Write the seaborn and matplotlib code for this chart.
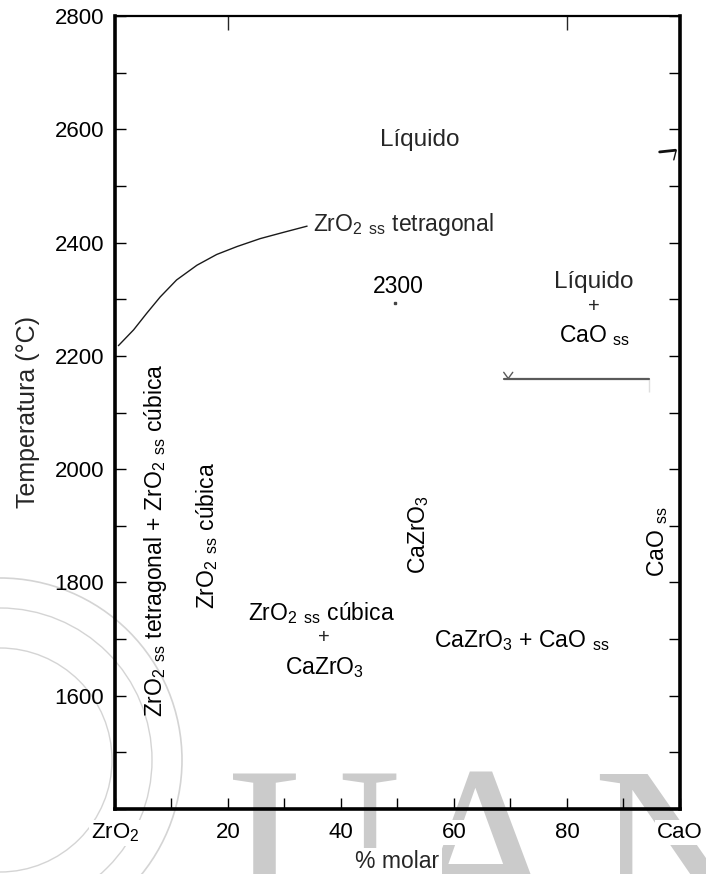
import matplotlib
matplotlib.use("Agg")
import matplotlib.pyplot as plt
import seaborn as sns
import pandas as pd
from matplotlib.ticker import MultipleLocator, FixedLocator
from matplotlib.patches import Circle

# ---- data -------------------------------------------------------------
# boundary of the tetragonal ZrO2 solid solution (mol % CaO, °C)
curve_x = [0.6, 3.3, 5.6, 8.0, 10.9, 14.5, 18.0, 21.6, 25.7, 29.8, 34.0]
curve_t = [2218, 2246, 2275, 2304, 2334, 2360, 2379, 2393, 2407, 2418, 2429]

# isotherm on the CaO-rich side
iso_x = [68.8, 94.5]
iso_t = [2160, 2160]
iso_vmark_x = [68.8, 69.6, 70.4]
iso_vmark_t = [2171, 2160, 2171]
iso_end_x = [94.5, 94.5]
iso_end_t = [2160, 2137]

# liquidus stub meeting the CaO edge
stub_x = [96.4, 99.2]
stub_t = [2560, 2563]
stub_tail_x = [99.3, 98.9]
stub_tail_t = [2562, 2546]

# congruent point under the 2300 label
point_x = [49.6]
point_t = [2294]

x_ticks = [0, 20, 40, 60, 80, 100]
x_labels = ["ZrO$_2$", "20", "40", "60", "80", "CaO"]
y_ticks = [1600, 1800, 2000, 2200, 2400, 2600, 2800]
top_ticks = [20, 80]

# ---- style ------------------------------------------------------------
sns.set_theme(style="white")
plt.rcParams["font.family"] = ["Liberation Sans", "DejaVu Sans"]
plt.rcParams["mathtext.fontset"] = "custom"
plt.rcParams["mathtext.rm"] = "Liberation Sans"
plt.rcParams["mathtext.default"] = "regular"

FS = 16.5
W, H = 706, 874
fig = plt.figure(figsize=(W / 100, H / 100), dpi=100)
fig.patch.set_facecolor("white")

# faint university seal and lettering behind the diagram
ring = "#d4d4d4"
for r, lw in [(182, 1.2), (152, 1.0), (112, 1.0)]:
    fig.patches.append(Circle((0, H - 760), r, transform=None, fill=False,
                              ec=ring, lw=lw, zorder=-5))
wm = "#cbcbcb"
for ch, xpx, ha in [("U", 228, "left"), ("A", 482, "center"), ("N", 592, "left")]:
    fig.text(xpx / W, (H - 931) / H, ch, fontsize=173, color=wm,
             family=["Liberation Serif", "DejaVu Serif"], ha=ha, va="baseline",
             zorder=-5)

ax = fig.add_axes([115 / W, 1 - 809 / H, (680 - 115) / W, (809 - 16) / H])
ax.patch.set_alpha(0)

df_curve = pd.DataFrame({"x": curve_x, "t": curve_t})
sns.lineplot(data=df_curve, x="x", y="t", sort=False, color="#1a1a1a", lw=1.0, ax=ax)
df_iso = pd.DataFrame({"x": iso_x, "t": iso_t})
sns.lineplot(data=df_iso, x="x", y="t", sort=False, color="#5a5a5a", lw=1.6, ax=ax)
sns.lineplot(x=iso_vmark_x, y=iso_vmark_t, sort=False, color="#5a5a5a", lw=1.0, ax=ax)
sns.lineplot(x=iso_end_x, y=iso_end_t, sort=False, color="#5a5a5a", lw=1.0, ax=ax)
sns.lineplot(x=stub_x, y=stub_t, sort=False, color="#111", lw=2.0, ax=ax)
sns.lineplot(x=stub_tail_x, y=stub_tail_t, sort=False, color="#111", lw=1.0, ax=ax)
ax.plot(point_x, point_t, marker="s", ms=1.5, color="#444", ls="none")

ax.set_xlim(0, 100)
ax.set_ylim(1400, 2800)

ax.xaxis.set_major_locator(FixedLocator(x_ticks))
ax.set_xticklabels(x_labels)
ax.xaxis.set_minor_locator(MultipleLocator(10))
ax.yaxis.set_major_locator(FixedLocator(y_ticks))
ax.yaxis.set_minor_locator(MultipleLocator(100))

ax.tick_params(axis="both", which="both", direction="in", colors="black",
               labelsize=16, width=1.0)
ax.tick_params(axis="y", which="both", left=True, right=True, length=8, pad=8)
ax.tick_params(axis="x", which="both", bottom=True, top=False, length=8, pad=9)
for lab in ax.get_xticklabels():
    lab.set_bbox(dict(facecolor="white", edgecolor="none", pad=1.5))

sec = ax.secondary_xaxis("top")
sec.set_xticks(top_ticks)
sec.tick_params(direction="in", length=10, width=1.0, labeltop=False)
sec.spines["top"].set_visible(False)

for side, w in [("left", 2.6), ("bottom", 2.6), ("right", 2.6), ("top", 1.6)]:
    ax.spines[side].set_visible(True)
    ax.spines[side].set_color("black")
    ax.spines[side].set_linewidth(w)

ax.set_xlabel("% molar", fontsize=16.5, labelpad=4,
              bbox=dict(facecolor="white", edgecolor="none", pad=1.5))
ax.set_ylabel("Temperatura (°C)", fontsize=18, labelpad=10)

# ---- phase field labels ----------------------------------------------
kw = dict(fontsize=FS, color="black", ha="center", va="center")
ax.text(54.0, 2581, "Líquido", fontsize=17.5, ha="center", va="center")
ax.text(35.1, 2432, "ZrO$_2$ $_{ss}$ tetragonal", fontsize=FS, ha="left", va="center")
ax.text(50.2, 2322, "2300", **kw)
ax.text(84.8, 2330, "Líquido", fontsize=17.5, ha="center", va="center")
ax.text(84.8, 2287, "+", fontsize=FS - 2, ha="center", va="center")
ax.text(84.8, 2235, "CaO $_{ss}$", **kw)

ax.text(7.1, 1875, "ZrO$_2$ $_{ss}$ tetragonal + ZrO$_2$ $_{ss}$ cúbica", rotation=90, **kw)
ax.text(16.3, 1882, "ZrO$_2$ $_{ss}$ cúbica", rotation=90, **kw)
ax.text(53.7, 1884, "CaZrO$_3$", rotation=90, **kw)
ax.text(96.1, 1873, "CaO $_{ss}$", rotation=90, **kw)

ax.text(36.5, 1746, "ZrO$_2$ $_{ss}$ cúbica", **kw)
ax.text(37.0, 1703, "+", fontsize=FS - 2, ha="center", va="center")
ax.text(37.1, 1649, "CaZrO$_3$", **kw)
ax.text(72.0, 1697, "CaZrO$_3$ + CaO $_{ss}$", **kw)

fig.savefig("out.png", dpi=100, facecolor="white")
